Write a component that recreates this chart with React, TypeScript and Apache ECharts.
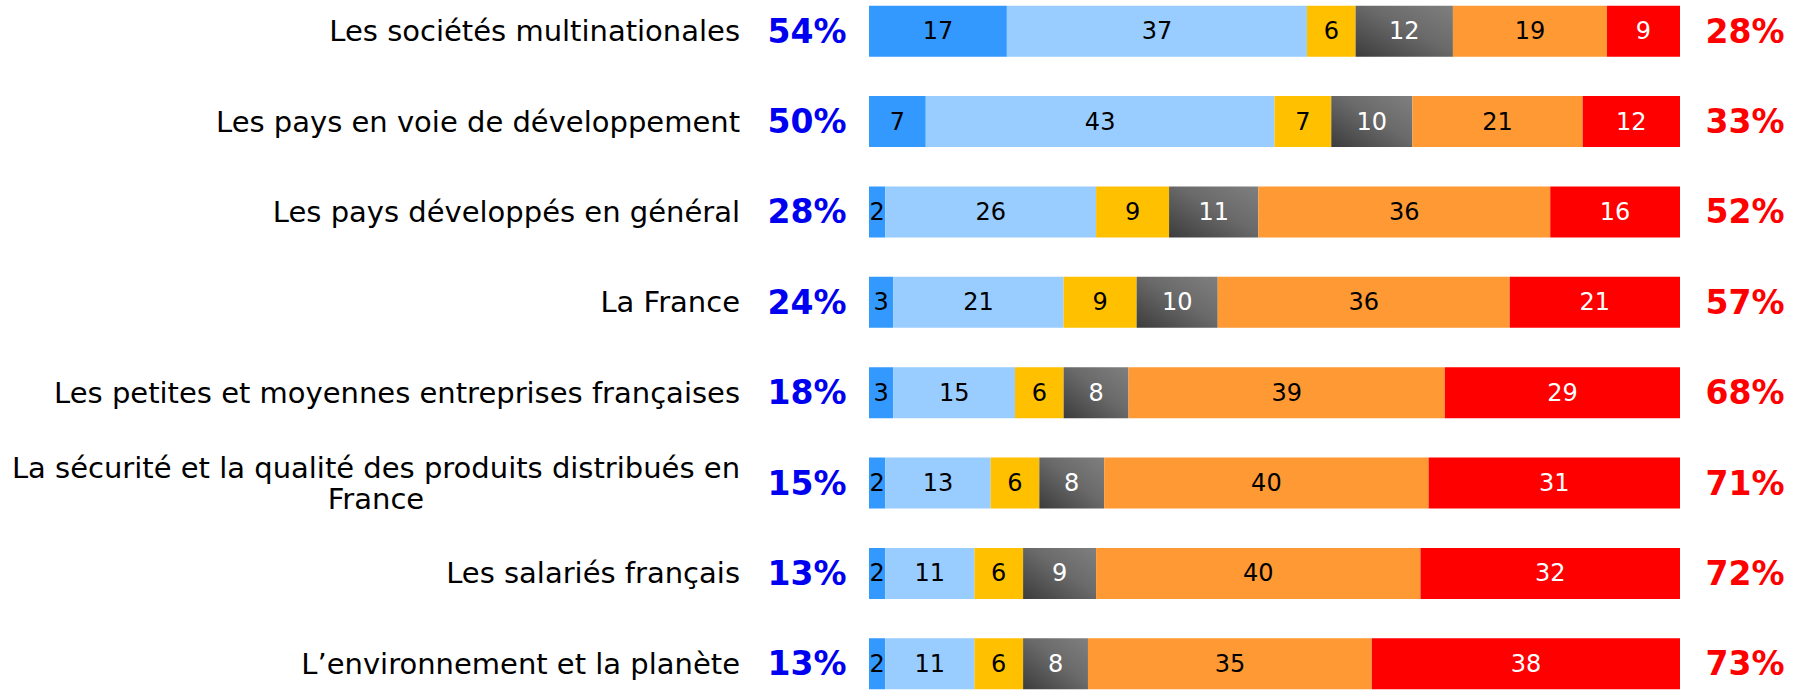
import React, { useEffect, useRef } from "react";
import * as echarts from "echarts";

const categories = [
  "Les sociétés multinationales",
  "Les pays en voie de développement",
  "Les pays développés en général",
  "La France",
  "Les petites et moyennes entreprises françaises",
  "La sécurité et la qualité des produits distribués en\nFrance",
  "Les salariés français",
  "L’environnement et la planète",
];

const tresPositif = [17, 7, 2, 3, 3, 2, 2, 2];
const plutotPositif = [37, 43, 26, 21, 15, 13, 11, 11];
const sansEffet = [6, 7, 9, 9, 6, 6, 6, 6];
const nsp = [12, 10, 11, 10, 8, 8, 9, 8];
const plutotNegatif = [19, 21, 36, 36, 39, 40, 40, 35];
const tresNegatif = [9, 12, 16, 21, 29, 31, 32, 38];

const totalPositif = [54, 50, 28, 24, 18, 15, 13, 13];
const totalNegatif = [28, 33, 52, 57, 68, 71, 72, 73];

const FONT = 'Verdana, "DejaVu Sans", sans-serif';

export default function App() {
  const ref = useRef<HTMLDivElement>(null);
  useEffect(() => {
    if (!ref.current) return;
    const chart = echarts.init(ref.current, undefined, { renderer: "svg" });
    const grayGradient = {
      type: "linear",
      x: 0,
      y: 1,
      x2: 1,
      y2: 0,
      colorStops: [
        { offset: 0, color: "#3c3c3c" },
        { offset: 0.55, color: "#6a6a6a" },
        { offset: 1, color: "#7f7f7f" },
      ],
    };
    const mk = (name: string, data: number[], color: any, labelColor: string) => ({
      name,
      type: "bar",
      stack: "total",
      data,
      barWidth: 51,
      itemStyle: { color },
      label: {
        show: true,
        position: "inside",
        color: labelColor,
        fontFamily: FONT,
        fontSize: 24,
      },
      emphasis: { disabled: true },
    });
    chart.setOption({
      animation: false,
      grid: { left: 869, right: 120, top: 0, bottom: 0, containLabel: false },
      xAxis: { type: "value", min: 0, max: 100, show: false },
      yAxis: [
        {
          type: "category",
          inverse: true,
          data: categories,
          axisLine: { show: false },
          axisTick: { show: false },
          splitLine: { show: false },
          axisLabel: {
            margin: 129,
            fontFamily: FONT,
            fontSize: 29,
            color: "#000",
            lineHeight: 31,
            formatter: (v: string) => {
              const i = v.indexOf("\n");
              if (i < 0) return v;
              return `{a|${v.slice(0, i)}}\n{a|${v.slice(i + 1)}}`;
            },
            rich: {
              a: { fontFamily: FONT, fontSize: 29, color: "#000", lineHeight: 31, align: "center" },
            },
          },
        },
        {
          type: "category",
          inverse: true,
          position: "left",
          data: totalPositif.map((v) => v + "%"),
          axisLine: { show: false },
          axisTick: { show: false },
          axisLabel: {
            margin: 62,
            align: "center",
            fontFamily: FONT,
            fontWeight: "bold",
            fontSize: 33,
            color: "#0000F0",
          },
        },
        {
          type: "category",
          inverse: true,
          position: "right",
          data: totalNegatif.map((v) => v + "%"),
          axisLine: { show: false },
          axisTick: { show: false },
          axisLabel: {
            margin: 65,
            align: "center",
            fontFamily: FONT,
            fontWeight: "bold",
            fontSize: 33,
            color: "#FF0000",
          },
        },
      ],
      series: [
        mk("Très positif", tresPositif, "#3399FF", "#000"),
        mk("Plutôt positif", plutotPositif, "#99CCFF", "#000"),
        mk("Sans effet", sansEffet, "#FFC000", "#000"),
        mk("Ne se prononce pas", nsp, grayGradient, "#fff"),
        mk("Plutôt négatif", plutotNegatif, "#FF9933", "#000"),
        mk("Très négatif", tresNegatif, "#FF0000", "#fff"),
      ],
    });
    return () => chart.dispose();
  }, []);
  return (
    <div
      style={{
        position: "absolute",
        left: 0,
        top: 0,
        width: 1800,
        height: 695,
        overflow: "hidden",
      }}
    >
      <div
        ref={ref}
        style={{ position: "absolute", left: 0, top: -13.7, width: 1800, height: 723.2 }}
      />
    </div>
  );
}
